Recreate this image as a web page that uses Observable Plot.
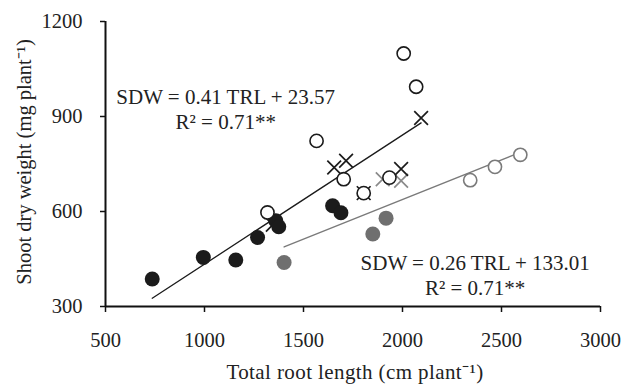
<!DOCTYPE html>
<html>
<head>
<meta charset="utf-8">
<script src="https://cdn.jsdelivr.net/npm/d3@7"></script>
<script src="https://cdn.jsdelivr.net/npm/@observablehq/plot@0.6"></script>
<style>
  html, body { margin: 0; padding: 0; background: #fff; }
  .wide text { letter-spacing: 0.4px; }
</style>
</head>
<body>
<div id="chart"></div>
<script>
// ---- data ----
const xTicks = [500, 1000, 1500, 2000, 2500, 3000];
const yTicks = [300, 600, 900, 1200];

// Group 1 (black)
const blackFilledX = [736, 994, 1158, 1268, 1360, 1375, 1647, 1689];
const blackFilledY = [387, 455, 447, 518, 571, 552, 618, 596];
const blackOpenX = [1318, 1566, 1703, 1804, 1934, 2006, 2069];
const blackOpenY = [597, 823, 702, 658, 707, 1099, 994];
const blackCrossX = [1345, 1655, 1715, 1804, 1993, 2094];
const blackCrossY = [558, 739, 760, 658, 734, 895];

// Group 2 (grey)
const grayFilledX = [1402, 1850, 1917];
const grayFilledY = [439, 529, 579];
const grayOpenX = [2342, 2467, 2595];
const grayOpenY = [699, 741, 779];
const grayCrossX = [1900, 1993];
const grayCrossY = [702, 697];

// Trend line end points
const fitBlackX = [736, 2094];
const fitBlackY = [326, 880];
const fitGrayX = [1402, 2592];
const fitGrayY = [488, 786];

const eqBlack = ["SDW = 0.41 TRL + 23.57", "R\u00B2 = 0.71**"];
const eqGray = ["SDW = 0.26 TRL + 133.01", "R\u00B2 = 0.71**"];
const xLabel = "Total root length (cm plant\u207B\u00B9)";
const yLabel = "Shoot dry weight (mg plant\u207B\u00B9)";

// ---- build tables ----
const pts = (xs, ys) => xs.map((x, i) => ({x, y: ys[i]}));

const BLACK = "#1b1b1b";
const GREY_FILL = "#6f6f6f";
const GREY_OPEN = "#7a7a7a";
const GREY_CROSS = "#8a8a8a";

const chart = Plot.plot({
  width: 633,
  height: 389,
  marginLeft: 105,
  marginRight: 33,
  marginTop: 21,
  marginBottom: 83,
  style: {fontFamily: "'Liberation Serif', 'Times New Roman', serif", fontSize: "20.5px", color: "#222", background: "#fff"},
  x: {domain: [500, 3000]},
  y: {domain: [300, 1200]},
  marks: [
    Plot.axisY({ticks: yTicks, tickSize: 5, tickPadding: 18, tickFormat: d => String(d), label: null, strokeWidth: 1.5, stroke: "#111", fill: "#222"}),
    Plot.axisX({ticks: xTicks, tickSize: 6, tickPadding: 20, tickFormat: d => String(d), label: null, strokeWidth: 1.5, stroke: "#111", fill: "#222"}),
    Plot.ruleX([xTicks[0]], {stroke: "#111", strokeWidth: 2}),
    Plot.ruleY([yTicks[0]], {stroke: "#111", strokeWidth: 2}),
    // trend lines
    Plot.line(pts(fitGrayX, fitGrayY), {x: "x", y: "y", stroke: GREY_OPEN, strokeWidth: 1.3}),
    Plot.line(pts(fitBlackX, fitBlackY), {x: "x", y: "y", stroke: BLACK, strokeWidth: 1.3}),
    // crosses
    Plot.dot(pts(grayCrossX, grayCrossY), {x: "x", y: "y", symbol: "times", r: 6.3, stroke: GREY_CROSS, strokeWidth: 1.7}),
    Plot.dot(pts(blackCrossX, blackCrossY), {x: "x", y: "y", symbol: "times", r: 6.3, stroke: BLACK, strokeWidth: 1.7}),
    // filled circles
    Plot.dot(pts(grayFilledX, grayFilledY), {x: "x", y: "y", r: 7.5, fill: GREY_FILL, stroke: "none"}),
    Plot.dot(pts(blackFilledX, blackFilledY), {x: "x", y: "y", r: 7.5, fill: BLACK, stroke: "none"}),
    // open circles
    Plot.dot(pts(grayOpenX, grayOpenY), {x: "x", y: "y", r: 6.6, fill: "#fff", stroke: GREY_OPEN, strokeWidth: 1.6}),
    Plot.dot(pts(blackOpenX, blackOpenY), {x: "x", y: "y", r: 6.6, fill: "#fff", stroke: BLACK, strokeWidth: 1.6}),
    // equations
    Plot.text([eqBlack.join("\n")], {x: () => 1107, y: () => 926, text: d => d, textAnchor: "middle", lineAnchor: "middle", lineHeight: 1.18, fill: "#222", fontSize: 21}),
    Plot.text([eqGray.join("\n")], {x: () => 2367, y: () => 402, text: d => d, textAnchor: "middle", lineAnchor: "middle", lineHeight: 1.18, fill: "#222", fontSize: 21}),
    // axis titles
    Plot.text([xLabel], {frameAnchor: "bottom", text: d => d, textAnchor: "middle", lineAnchor: "bottom", dx: 2, dy: 72, fill: "#222", fontSize: 21, className: "wide"}),
    Plot.text([yLabel], {frameAnchor: "left", text: d => d, rotate: -90, textAnchor: "middle", lineAnchor: "bottom", dx: -75, dy: -2, fill: "#222", fontSize: 20.5})
  ]
});

document.getElementById("chart").appendChild(chart);
</script>
</body>
</html>
